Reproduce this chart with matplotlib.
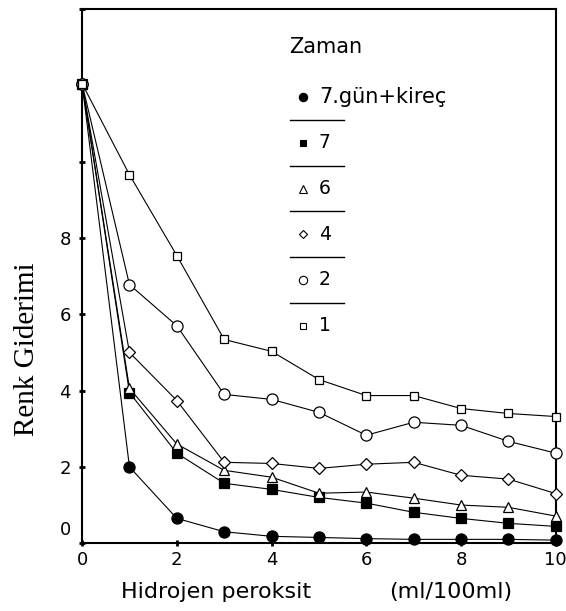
import matplotlib
matplotlib.use("Agg")
import matplotlib.pyplot as plt
import matplotlib.transforms as mtransforms
from matplotlib.lines import Line2D

# data
x = [0, 1, 2, 3, 4, 5, 6, 7, 8, 9, 10]
kirec = [12.05, 2.0, 0.65, 0.3, 0.18, 0.15, 0.12, 0.1, 0.1, 0.1, 0.08]
gun7 = [12.05, 3.95, 2.36, 1.57, 1.41, 1.2, 1.05, 0.81, 0.65, 0.52, 0.44]
gun6 = [12.05, 4.06, 2.6, 1.91, 1.73, 1.31, 1.34, 1.18, 1.0, 0.94, 0.71]
gun4 = [12.05, 5.0, 3.74, 2.12, 2.09, 1.96, 2.07, 2.12, 1.78, 1.68, 1.3]
gun2 = [12.05, 6.78, 5.7, 3.9, 3.77, 3.43, 2.83, 3.17, 3.09, 2.67, 2.36]
gun1 = [12.05, 9.66, 7.54, 5.34, 5.03, 4.29, 3.87, 3.87, 3.53, 3.4, 3.32]
labels = ["7.gün+kireç", "7", "6", "4", "2", "1"]
yticks = [0, 2, 4, 6, 8, 10, 12, 14]
ytick_labels = ["0", "2", "4", "6", "8", "", "", ""]
xticks = [0, 2, 4, 6, 8, 10]

series = [kirec, gun7, gun6, gun4, gun2, gun1]
styles = [("o", "black", 8), ("s", "black", 6.5), ("^", "white", 7),
          ("D", "white", 6), ("o", "white", 8), ("s", "white", 6)]
sans = "DejaVu Sans"

fig = plt.figure(figsize=(5.66, 6.11), dpi=100)
ax = fig.add_axes([0.145, 0.111, 0.837, 0.874])

for ys, (m, fc, ms) in zip(series, styles):
    ax.plot(x, ys, color="black", lw=0.8, marker=m, markerfacecolor=fc,
            markeredgecolor="black", markersize=ms, markeredgewidth=0.9, clip_on=False, zorder=3)

ax.set_xlim(0, 10)
ax.set_ylim(0, 14)
ax.set_xticks(xticks)
ax.set_yticks(yticks)
ax.set_yticklabels(ytick_labels)
ax.tick_params(direction="inout", length=4, width=2, labelsize=13)
ax.tick_params(axis="y", pad=6)
for lab in ax.get_xticklabels() + ax.get_yticklabels():
    lab.set_fontfamily(sans)
# the 0 label sits a bit higher in the reference
lab0 = ax.get_yticklabels()[0]
lab0.set_transform(lab0.get_transform() + mtransforms.ScaledTranslation(0, 15 / 100, fig.dpi_scale_trans))
for s in ax.spines.values():
    s.set_linewidth(1.5)

ax.set_ylabel("Renk Giderimi", family="Liberation Serif", fontsize=21)
ax.yaxis.set_label_coords(-0.088, 0.363)
fig.text(0.213, 0.022, "Hidrojen peroksit", family=sans, fontsize=16)
fig.text(0.688, 0.022, "(ml/100ml)", family=sans, fontsize=16)

# legend drawn by hand, with separators between the entries
tr = ax.transAxes
ax.text(0.437, 0.93, "Zaman", transform=tr, family=sans, fontsize=15, va="center")
y0 = 0.835
step = 0.0855
for i, (lab, (m, fc, ms)) in enumerate(zip(labels, styles)):
    yy = y0 - i * step
    ax.add_line(Line2D([0.467], [yy], transform=tr, marker=m, markersize=ms * 0.75,
                       markerfacecolor=fc, markeredgecolor="black", markeredgewidth=0.8))
    ax.text(0.5, yy, lab, transform=tr, family=sans, fontsize=15 if i == 0 else 13.5, va="center")
    if i < len(labels) - 1:
        ax.add_line(Line2D([0.438, 0.553], [yy - step / 2] * 2, transform=tr, color="black", lw=1))

fig.savefig("out.png", dpi=100)
